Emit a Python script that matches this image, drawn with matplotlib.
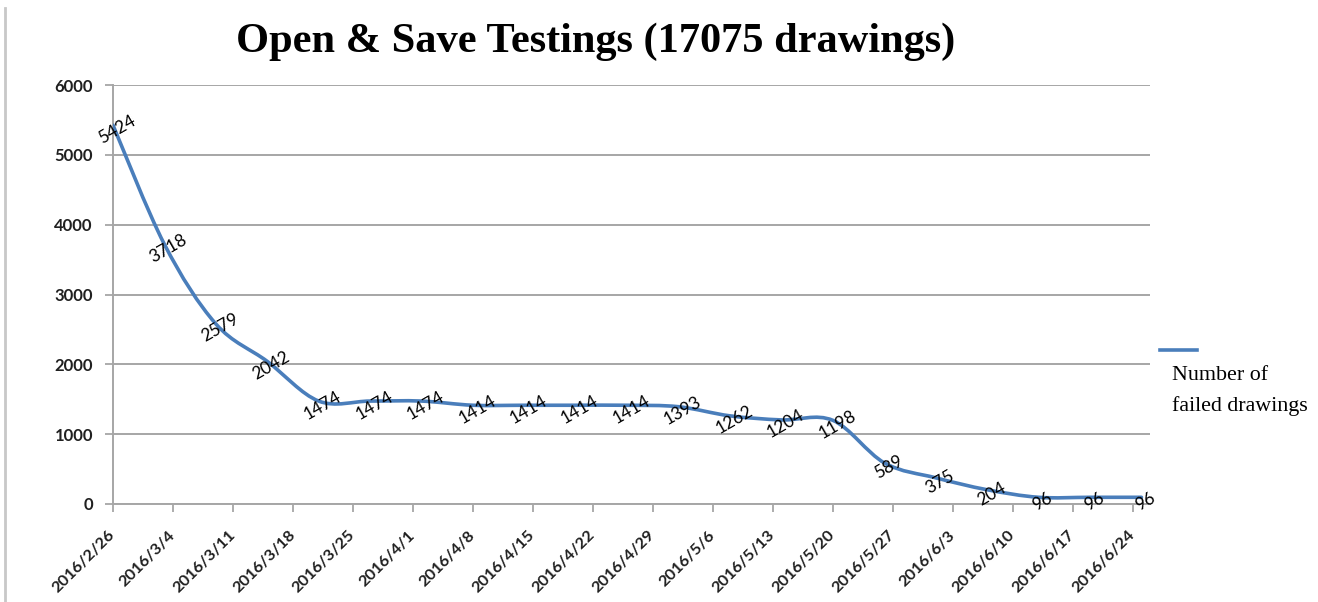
import numpy as np
import matplotlib
matplotlib.use("Agg")
import matplotlib.pyplot as plt
from matplotlib.path import Path
from matplotlib.patches import PathPatch
from matplotlib.lines import Line2D

# ---------------- data ----------------
dates = ['2016-02-26', '2016-03-03', '2016-03-09', '2016-03-15', '2016-03-21',
         '2016-03-27', '2016-04-02', '2016-04-08', '2016-04-14', '2016-04-20',
         '2016-04-26', '2016-05-02', '2016-05-08', '2016-05-14', '2016-05-20',
         '2016-05-26', '2016-06-01', '2016-06-07', '2016-06-13', '2016-06-19',
         '2016-06-25']
failed = [5424, 3718, 2579, 2042, 1474, 1474, 1474, 1414, 1414, 1414, 1414,
          1393, 1262, 1204, 1198, 589, 375, 204, 96, 96, 96]
tick_dates = ['2016-02-26', '2016-03-04', '2016-03-11', '2016-03-18', '2016-03-25',
              '2016-04-01', '2016-04-08', '2016-04-15', '2016-04-22', '2016-04-29',
              '2016-05-06', '2016-05-13', '2016-05-20', '2016-05-27', '2016-06-03',
              '2016-06-10', '2016-06-17', '2016-06-24']
tick_labels = ['2016/2/26', '2016/3/4', '2016/3/11', '2016/3/18', '2016/3/25',
               '2016/4/1', '2016/4/8', '2016/4/15', '2016/4/22', '2016/4/29',
               '2016/5/6', '2016/5/13', '2016/5/20', '2016/5/27', '2016/6/3',
               '2016/6/10', '2016/6/17', '2016/6/24']
axis_end = '2016-06-26'
y_ticks = [0, 1000, 2000, 3000, 4000, 5000, 6000]
title = 'Open & Save Testings (17075 drawings)'
series_name = 'Number of\nfailed drawings'

# ---------------- figure ----------------
W, H = 1318, 602
fig = plt.figure(figsize=(W / 100, H / 100), dpi=100)
fig.patch.set_facecolor('white')
ax = fig.add_axes([113 / W, 1 - 504 / H, (1150 - 113) / W, (504 - 85) / H])

d0 = np.datetime64(dates[0], 'D')
x = (np.array(dates, dtype='datetime64[D]') - d0).astype(float)
xt = (np.array(tick_dates, dtype='datetime64[D]') - d0).astype(float)
xend = float((np.datetime64(axis_end, 'D') - d0).astype(int))
y = np.array(failed, dtype=float)

line_color = '#4A7EBB'
grid_color = '#A6A6A6'

# smoothed line (Excel style cubic Bezier through the data points)
pts = np.column_stack([x, y])
n = len(pts)
verts = [pts[0]]
codes = [Path.MOVETO]
for i in range(n - 1):
    p0 = pts[i - 1] if i > 0 else pts[i]
    p1 = pts[i]
    p2 = pts[i + 1]
    p3 = pts[i + 2] if i + 2 < n else pts[i + 1]
    verts += [p1 + (p2 - p0) / 6.0, p2 - (p3 - p1) / 6.0, p2]
    codes += [Path.CURVE4] * 3
ax.add_patch(PathPatch(Path(verts, codes), facecolor='none', edgecolor=line_color,
                       lw=2.6, capstyle='round', joinstyle='round', zorder=3))

# data labels
for xi, yi in zip(x, y):
    ax.annotate(f'{int(yi)}', (xi, yi), xytext=(3, -3), textcoords='offset points',
                ha='center', va='center', rotation=30, rotation_mode='anchor',
                fontsize=12.5, family='Lato', color='black', zorder=4)

ax.set_xlim(0, xend)
ax.set_ylim(0, 6000)
ax.set_yticks(y_ticks)
ax.set_yticklabels([str(v) for v in y_ticks], family='Lato', fontweight='bold',
                   fontsize=12, color='#202020')
ax.set_xticks(xt)
ax.set_xticklabels(tick_labels, rotation=45, ha='right', va='center',
                   rotation_mode='anchor', family='Lato', fontweight='bold',
                   fontsize=11.8, color='#202020')
ax.tick_params(axis='x', length=6, width=1.3, color=grid_color, pad=15, direction='out')
ax.tick_params(axis='y', length=6, width=1.3, color=grid_color, pad=8.5, direction='out')
ax.grid(axis='y', color=grid_color, lw=1.4)
ax.set_axisbelow(True)
for s in ['top', 'right']:
    ax.spines[s].set_visible(False)
for s in ['left', 'bottom']:
    ax.spines[s].set_color(grid_color)
    ax.spines[s].set_linewidth(1.4)

# title
fig.text(596 / W, 1 - 42 / H, title, ha='center', va='center',
         family='Liberation Serif', fontweight='bold', fontsize=30.5, color='black')

# legend (Excel-like layout)
fig.add_artist(Line2D([1160 / W, 1197 / W], [1 - 350 / H, 1 - 350 / H],
                      color=line_color, lw=2.6, transform=fig.transFigure))
fig.text(1172 / W, 1 - 391 / H, series_name, ha='left', va='center',
         family='Liberation Serif', fontsize=15.8, linespacing=1.75, color='black')

# left page border
fig.add_artist(Line2D([5 / W, 5 / W], [0, 1 - 8 / H], color='#C8C8C8', lw=2,
                      transform=fig.transFigure))

fig.savefig('out.png', dpi=100, facecolor='white')
